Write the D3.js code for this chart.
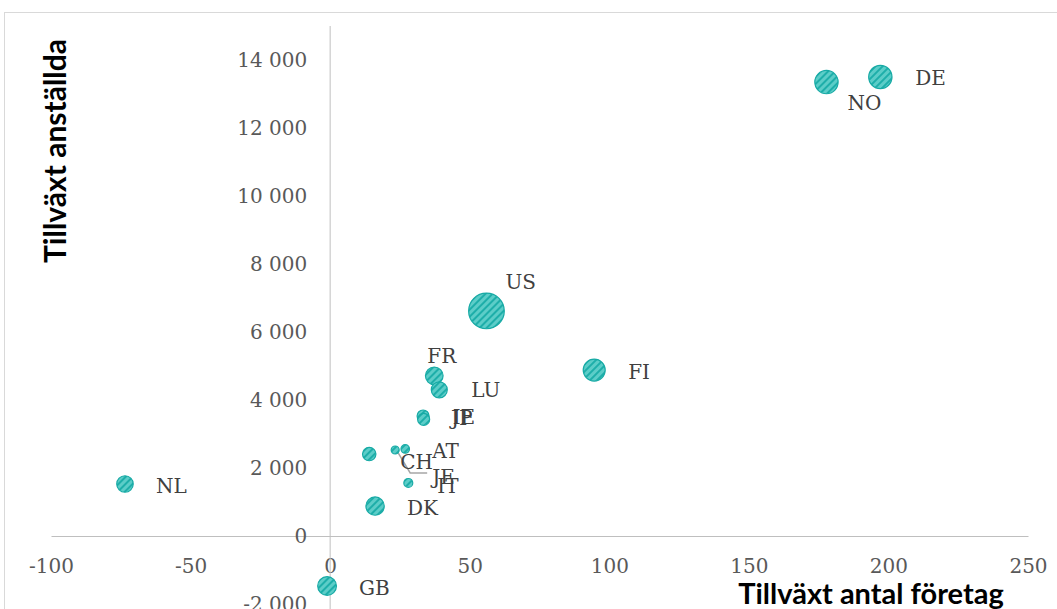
<!DOCTYPE html>
<html>
<head>
<meta charset="utf-8">
<script src="https://cdn.jsdelivr.net/npm/d3@7"></script>
<style>
  html, body { margin: 0; padding: 0; background: #ffffff; }
  svg { display: block; }
</style>
</head>
<body>
<svg id="chart" width="1057" height="609"></svg>
<script>
// Country codes, growth in number of companies (x), growth in employees (y), bubble size
const countries = ["NL", "GB", "DK", "CH", "JE", "AT", "IT", "JP", "IE", "FR", "LU", "US", "FI", "NO", "DE"];
const growthCompanies = [-73.5, -1.1, 16.1, 14.0, 23.3, 26.9, 28.0, 33.3, 33.5, 37.3, 39.1, 56.0, 94.6, 177.8, 197.1];
const growthEmployees = [1530, -1470, 880, 2410, 2530, 2560, 1560, 3530, 3430, 4710, 4300, 6620, 4880, 13350, 13500];
const bubbleSize = [68, 88, 84, 45, 16, 18, 20, 36, 36, 78, 64, 318, 121, 136, 136];

const xTicks = [-100, -50, 0, 50, 100, 150, 200, 250];
const yTicks = [-2000, 0, 2000, 4000, 6000, 8000, 10000, 12000, 14000];
const xTitle = "Tillväxt antal företag";
const yTitle = "Tillväxt anställda";

// Label placement relative to bubble centre (px): [dx, dy]
const labelOffset = {
  NL: [31, 2], GB: [32, 2], DK: [32, 2], CH: [31, 8], JE: [37, 27], AT: [27, 2],
  IT: [29, 3], JP: [28, 2], IE: [29, -2], FR: [-7, -20], LU: [32, 0], US: [19, -29],
  FI: [34, 2], NO: [21, 21], DE: [35, 1]
};
const leaderLines = ["JE"];

const data = countries.map((c, i) => ({
  code: c, x: growthCompanies[i], y: growthEmployees[i], size: bubbleSize[i]
}));

const svg = d3.select("#chart");

// hatched bubble fill
const defs = svg.append("defs");
const pat = defs.append("pattern")
  .attr("id", "hatch")
  .attr("patternUnits", "userSpaceOnUse")
  .attr("width", 5).attr("height", 5)
  .attr("patternTransform", "rotate(45)");
pat.append("rect").attr("width", 5).attr("height", 5).attr("fill", "#5ccdc8");
pat.append("rect").attr("x", 0).attr("width", 2).attr("height", 5).attr("fill", "#1eaea9");

// outer chart frame
svg.append("rect")
  .attr("x", 4.5).attr("y", 12.5)
  .attr("width", 1070).attr("height", 620)
  .attr("fill", "none").attr("stroke", "#d9d9d9").attr("stroke-width", 1);

const x = d3.scaleLinear().domain([-100, 250]).range([51, 1028]);
const y = d3.scaleLinear().domain([-2000, 15000]).range([604, 26]);
const r = d3.scaleSqrt().domain([0, 1]).range([0, 1]);

const locale = d3.formatLocale({ decimal: ",", thousands: " ", grouping: [3], currency: ["", ""], minus: "-" });
const fmt = locale.format(",");

const tickFont = "'DejaVu Serif', 'Liberation Serif', serif";
const tickSize = 20;

// x axis, crossing at y = 0
const gx = svg.append("g")
  .attr("transform", `translate(0,${y(0)})`)
  .call(d3.axisBottom(x).tickValues(xTicks).tickSize(0).tickSizeOuter(0).tickPadding(23).tickFormat(d => fmt(d)));
gx.select(".domain").attr("stroke", "#bfbfbf").attr("stroke-width", 1);
gx.selectAll("text").attr("font-family", tickFont).attr("font-size", tickSize).attr("fill", "#595959");

// y axis, crossing at x = 0
const gy = svg.append("g")
  .attr("transform", `translate(${x(0)},0)`)
  .call(d3.axisLeft(y).tickValues(yTicks).tickSize(0).tickSizeOuter(0).tickPadding(23).tickFormat(d => fmt(d)));
gy.select(".domain").remove();
svg.append("line")
  .attr("x1", x(0)).attr("x2", x(0))
  .attr("y1", y(15000)).attr("y2", 609)
  .attr("stroke", "#bfbfbf").attr("stroke-width", 1);
gy.selectAll("text").attr("font-family", tickFont).attr("font-size", tickSize).attr("fill", "#595959");

// leader lines
data.filter(d => leaderLines.includes(d.code)).forEach(d => {
  const cx = x(d.x), cy = y(d.y);
  const lx = cx + labelOffset[d.code][0], ly = cy + labelOffset[d.code][1];
  svg.append("polyline")
    .attr("points", [[cx + 3, cy + 3], [lx - 22, ly - 4], [lx - 5, ly - 4]].map(p => p.join(",")).join(" "))
    .attr("fill", "none").attr("stroke", "#a6a6a6").attr("stroke-width", 1.5);
});

// bubbles
svg.append("g").selectAll("circle")
  .data(data)
  .join("circle")
  .attr("cx", d => x(d.x))
  .attr("cy", d => y(d.y))
  .attr("r", d => r(d.size))
  .attr("fill", "url(#hatch)")
  .attr("stroke", "#17aaa5")
  .attr("stroke-width", 1.2);

// data labels
svg.append("g").selectAll("text")
  .data(data)
  .join("text")
  .attr("x", d => x(d.x) + labelOffset[d.code][0])
  .attr("y", d => y(d.y) + labelOffset[d.code][1])
  .attr("dy", "0.35em")
  .attr("font-family", tickFont)
  .attr("font-size", tickSize)
  .attr("fill", "#404040")
  .text(d => d.code);

// axis titles
const titleFont = "Lato, 'Open Sans', sans-serif";
svg.append("text")
  .attr("x", 871).attr("y", 604)
  .attr("text-anchor", "middle")
  .attr("font-family", titleFont).attr("font-weight", 700).attr("font-size", 29)
  .attr("fill", "#000000")
  .text(xTitle);
svg.append("text")
  .attr("transform", "translate(66,151) rotate(-90)")
  .attr("text-anchor", "middle")
  .attr("font-family", titleFont).attr("font-weight", 700).attr("font-size", 30)
  .attr("fill", "#000000")
  .text(yTitle);
</script>
</body>
</html>
